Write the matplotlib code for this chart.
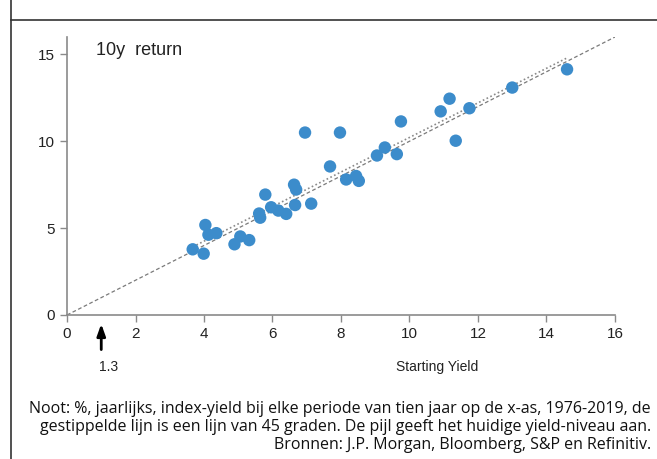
import numpy as np
import matplotlib.pyplot as plt
from matplotlib.lines import Line2D

# starting yield (x) vs 10y return (y)
start_yield = [3.67, 3.99, 4.04, 4.13, 4.36, 4.89, 5.06, 5.32, 5.61, 5.64,
               5.79, 5.96, 6.17, 6.40, 6.63, 6.69, 6.66, 7.13, 6.95, 7.97,
               7.68, 8.15, 8.44, 8.52, 9.05, 9.28, 9.63, 9.75, 10.91, 11.17,
               11.35, 11.75, 13.0, 14.6]
ret_10y = [3.78, 3.53, 5.18, 4.62, 4.71, 4.07, 4.52, 4.31, 5.84, 5.60,
           6.93, 6.20, 6.01, 5.82, 7.50, 7.22, 6.33, 6.41, 10.50, 10.50,
           8.55, 7.80, 8.00, 7.72, 9.18, 9.64, 9.26, 11.14, 11.72, 12.45,
           10.03, 11.90, 13.09, 14.14]
current_yield = 1.3
x_ticks = [0, 2, 4, 6, 8, 10, 12, 14, 16]
y_ticks = [0, 5, 10, 15]

plt.rcParams['font.family'] = ['Liberation Sans', 'DejaVu Sans']

fig = plt.figure(figsize=(6.57, 4.59), dpi=100)
ax = fig.add_axes([67/657, 144/459, 548/657, 278/459])

# 45 degree line and trend line
ax.plot([0, 16], [0, 16], ls=(0, (3, 2)), color='#7a7a7a', lw=0.9, zorder=1)
coef = np.polyfit(start_yield, ret_10y, 1)
xs = np.array([min(start_yield), max(start_yield)])
ax.plot(xs, np.polyval(coef, xs), ls=(0, (1, 1.5)), color='#8a8a8a', lw=1.2, zorder=1)

ax.scatter(start_yield, ret_10y, s=80, color='#3C8CCB', edgecolors='none', zorder=3)

ax.set_xlim(0, 16)
ax.set_ylim(0, 16)
ax.set_xticks(x_ticks)
ax.set_yticks(y_ticks)
ax.tick_params(labelsize=11, colors='#222222', length=5, width=1, pad=4)
ax.tick_params(axis='x', color='#8a8a8a')
ax.tick_params(axis='y', color='#8a8a8a')
for s in ['top', 'right']:
    ax.spines[s].set_visible(False)
for s in ['left', 'bottom']:
    ax.spines[s].set_color('#8a8a8a')
    ax.spines[s].set_linewidth(1.2)

ax.text(0.85, 15.7, '10y  return', fontsize=13, color='#222222', va='top')
ax.text(10.8, -2.6, 'Starting Yield', fontsize=10, color='#222222', ha='center', va='top')

# arrow for current yield level
ax.annotate('', xy=(1.0, -0.35), xytext=(1.0, -2.15),
            arrowprops=dict(arrowstyle='-|>,head_length=0.7,head_width=0.25',
                            color='black', lw=2), annotation_clip=False)
ax.text(1.2, -2.6, str(current_yield), fontsize=10, color='#222222', ha='center', va='top')

# frame lines
fig.add_artist(Line2D([11/657, 11/657], [0, 1], color='#333333', lw=1.2))
fig.add_artist(Line2D([11/657, 1], [1 - 20/459, 1 - 20/459], color='#333333', lw=1.2))

note = ("Noot: %, jaarlijks, index-yield bij elke periode van tien jaar op de x-as, 1976-2019, de\n"
        "gestippelde lijn is een lijn van 45 graden. De pijl geeft het huidige yield-niveau aan.\n"
        "Bronnen: J.P. Morgan, Bloomberg, S&P en Refinitiv.")
fig.text(651/657, 1 - 401/459, note, fontsize=11.55, family='Open Sans', ha='right', va='top',
         multialignment='right', linespacing=1.16, color='#111111')

fig.savefig('out.png', dpi=100)
